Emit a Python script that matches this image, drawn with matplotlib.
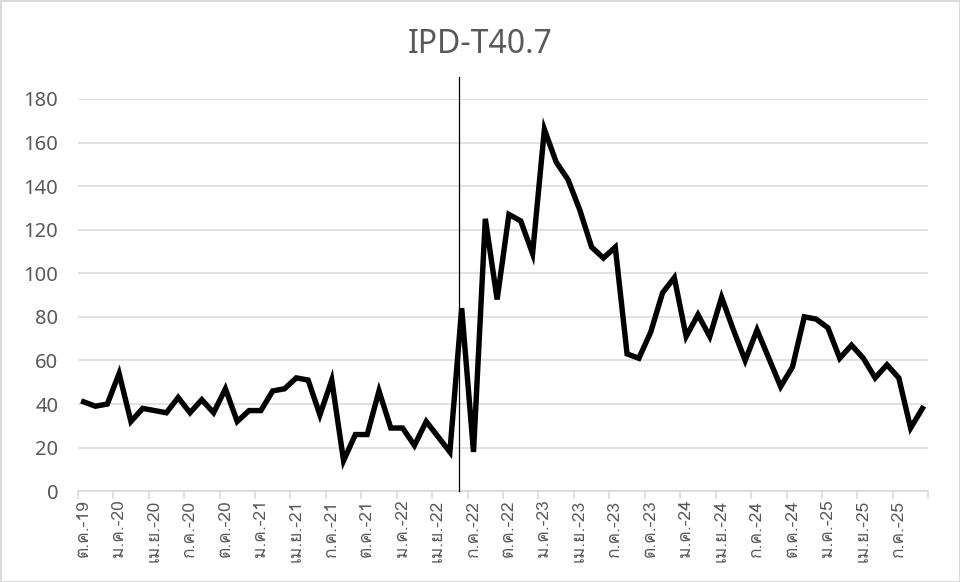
import matplotlib
matplotlib.use('Agg')
import matplotlib.pyplot as plt
import numpy as np

# monthly values, Oct-2019 .. Sep-2025
values = [41, 39, 40, 54, 32, 38, 37, 36, 43, 36, 42, 36,
          47, 32, 37, 37, 46, 47, 52, 51, 35, 51, 14, 26,
          26, 46, 29, 29, 21, 32, 25, 18, 84, 18, 125, 88,
          127, 124, 109, 166, 151, 143, 129, 112, 107, 112, 63, 61,
          73, 91, 98, 71, 81, 71, 89, 74, 60, 74, 61, 48,
          57, 80, 79, 75, 61, 67, 61, 52, 58, 52, 29, 38]

# one label every 3 months
tick_labels = ['ต.ค.-19', 'ม.ค.-20', 'เม.ย.-20', 'ก.ค.-20', 'ต.ค.-20', 'ม.ค.-21',
               'เม.ย.-21', 'ก.ค.-21', 'ต.ค.-21', 'ม.ค.-22', 'เม.ย.-22', 'ก.ค.-22',
               'ต.ค.-22', 'ม.ค.-23', 'เม.ย.-23', 'ก.ค.-23', 'ต.ค.-23', 'ม.ค.-24',
               'เม.ย.-24', 'ก.ค.-24', 'ต.ค.-24', 'ม.ค.-25', 'เม.ย.-25', 'ก.ค.-25']

marker_month = 31.8  # vertical marker line position (month index)

x = np.arange(len(values))
grid_c = '#d9d9d9'
text_c = '#595959'

fig = plt.figure(figsize=(9.6, 5.82), dpi=100)
ax = fig.add_axes([0.081, 0.156, 0.886, 0.674])

ax.plot(x, values, color='black', linewidth=3.9, solid_joinstyle='miter', zorder=3)
ax.plot([marker_month, marker_month], [0, 190], color='black', linewidth=0.9,
        clip_on=False, zorder=4)

ax.set_xlim(-0.5, len(values) - 0.5)
ax.set_ylim(0, 180)
ax.set_yticks(np.arange(0, 181, 20))
ax.grid(axis='y', color=grid_c, linewidth=1.1)
ax.set_axisbelow(True)

ax.set_xticks(x[::3])
ax.set_xticklabels(tick_labels, rotation=90, family=['Loma', 'DejaVu Sans'],
                   fontsize=12.5, color=text_c)
ax.set_xticks(np.arange(-0.5, len(values), 3), minor=True)
ax.tick_params(axis='x', which='major', length=0, pad=6)
ax.tick_params(axis='x', which='minor', length=6, color=grid_c, width=1.1)
ax.tick_params(axis='y', length=0, labelsize=14.5, labelcolor=text_c, pad=14)
for lab in ax.get_yticklabels():
    lab.set_family('Noto Sans')

for s in ['top', 'right', 'left']:
    ax.spines[s].set_visible(False)
ax.spines['bottom'].set_color(grid_c)
ax.spines['bottom'].set_linewidth(1.1)

fig.text(0.5, 0.924, 'IPD-T40.7', ha='center', va='center', fontsize=23,
         color=text_c, family='Noto Sans')

fig.patch.set_edgecolor(grid_c)
fig.patch.set_linewidth(2)

plt.savefig('out.png', dpi=100, edgecolor=fig.get_edgecolor())
